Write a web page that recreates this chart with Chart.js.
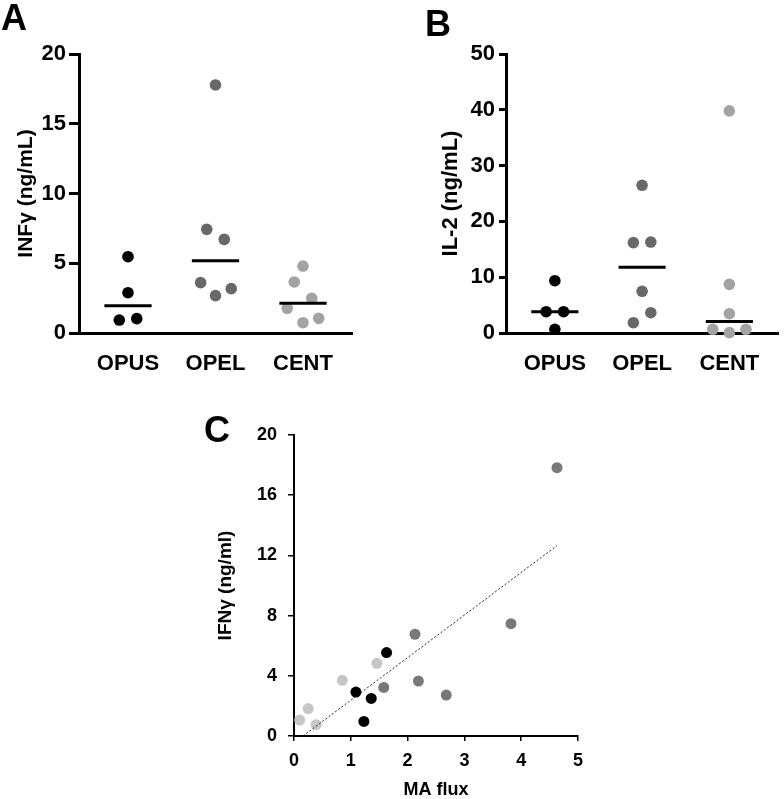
<!DOCTYPE html>
<html>
<head>
<meta charset="utf-8">
<script src="https://cdn.jsdelivr.net/npm/chart.js@4.4.1/dist/chart.umd.min.js"></script>
<style>
    body { margin: 0; background: #fff; }
    #page { position: relative; width: 784px; height: 799px; overflow: hidden; }
    canvas { position: absolute; }
    .tag { position: absolute; font: bold 36px "Liberation Sans", Arial, sans-serif; line-height: 1; color: #000; }
</style>
</head>
<body>
<div id="page">
    <canvas id="chartA" width="360" height="380" style="left:0;top:0"></canvas>
    <canvas id="chartB" width="384" height="380" style="left:400px;top:0"></canvas>
    <canvas id="chartC" width="420" height="399" style="left:190px;top:400px"></canvas>
    <div class="tag" style="left:1px;top:0px">A</div>
    <div class="tag" style="left:425px;top:6px">B</div>
    <div class="tag" style="left:204px;top:412px">C</div>
</div>
<script>
// groups
const groups = ['OPUS', 'OPEL', 'CENT'];

// A - INFγ per group (ng/mL), with sideways spread inside each column
const infOpus = [5.47, 2.89, 0.93, 1.03];
const infOpusSpread = [0, 0, -0.1, 0.1];
const infOpel = [17.78, 7.43, 6.71, 3.61, 3.18, 2.68];
const infOpelSpread = [0, -0.1, 0.1, -0.17, 0.18, 0];
const infCent = [4.80, 3.66, 2.48, 1.77, 1.05, 0.74];
const infCentSpread = [0, -0.1, 0.1, -0.18, 0.18, 0];
const infMedians = [1.96, 5.18, 2.13];
const infTicks = [0, 5, 10, 15, 20];

// B - IL-2 per group (ng/mL)
const il2Opus = [9.37, 3.82, 3.82, 0.66];
const il2OpusSpread = [0, -0.1, 0.1, 0];
const il2Opel = [26.47, 16.2, 16.3, 7.47, 3.64, 1.85];
const il2OpelSpread = [0, -0.1, 0.1, 0, 0.1, -0.1];
const il2Cent = [39.8, 8.72, 3.46, 0.66, 0.66, 0.06];
const il2CentSpread = [0, 0, 0, -0.19, 0.19, 0];
const il2Medians = [3.82, 11.8, 2.06];
const il2Ticks = [0, 10, 20, 30, 40, 50];

// C - IFNγ vs MA flux
const fluxOpus = [1.63, 1.09, 1.36, 1.23];
const ifnOpus = [5.54, 2.92, 2.50, 0.97];
const fluxOpel = [4.63, 3.82, 2.13, 2.19, 1.58, 2.68];
const ifnOpel = [17.83, 7.46, 6.76, 3.65, 3.23, 2.72];
const fluxCent = [1.46, 0.85, 0.25, 0.10, 0.39];
const ifnCent = [4.83, 3.70, 1.82, 1.06, 0.75];
const fitFlux = [0.16, 4.63];
const fitIfn = [0, 12.65];

const FONT = '"Liberation Sans", Arial, sans-serif';
const colorsAB = ['#000000', '#686868', '#a3a3a3'];
const colorsC = ['#000000', '#787878', '#c6c6c6'];

Chart.defaults.font.family = FONT;
Chart.defaults.color = '#000';

function column(values, spread, i) {
    return values.map((v, k) => ({ x: i + spread[k], y: v }));
}

function dots(data, color, r) {
    return {
        type: 'scatter',
        data: data,
        backgroundColor: color,
        borderWidth: 0,
        pointRadius: r,
        pointHoverRadius: r,
        clip: false
    };
}

function medianLines(medians) {
    return medians.map((m, i) => ({
        type: 'line',
        data: [{ x: i - 0.27, y: m }, { x: i + 0.27, y: m }],
        borderColor: '#000',
        borderWidth: 3,
        pointRadius: 0,
        clip: false
    }));
}

function groupChart(id, cols, medians, ticks, title, opts) {
    const datasets = medianLines(medians);
    cols.forEach((c, i) => datasets.push(dots(column(c[0], c[1], i), colorsAB[i], 5.8)));
    new Chart(document.getElementById(id), {
        type: 'scatter',
        data: { datasets: datasets },
        options: {
            responsive: false,
            animation: false,
            events: [],
            layout: { padding: { top: 54, right: opts.right, left: 0, bottom: 0 } },
            plugins: { legend: { display: false }, tooltip: { enabled: false } },
            scales: {
                x: {
                    type: 'linear',
                    min: -0.56,
                    max: 2.56,
                    afterBuildTicks: s => { s.ticks = groups.map((g, i) => ({ value: i })); },
                    afterFit: s => { s.height = opts.xHeight; },
                    grid: { display: false },
                    border: { display: true, width: 3, color: '#000' },
                    ticks: {
                        padding: 10,
                        maxRotation: 0,
                        autoSkip: false,
                        font: { size: 22, weight: 'bold' },
                        callback: v => groups[v]
                    }
                },
                y: {
                    min: 0,
                    max: ticks[ticks.length - 1],
                    afterBuildTicks: s => { s.ticks = ticks.map(v => ({ value: v })); },
                    afterFit: s => { s.width = opts.yWidth; },
                    grid: { drawOnChartArea: false, drawTicks: true, tickLength: opts.tickLen, lineWidth: 3, color: '#000' },
                    border: { display: true, width: 3, color: '#000' },
                    ticks: { padding: opts.tickPad, font: { size: 22, weight: 'bold' } },
                    title: {
                        display: true,
                        text: title,
                        font: { size: opts.titleSize, weight: 'bold' },
                        padding: { top: opts.titlePad, bottom: 0 }
                    }
                }
            }
        }
    });
}

groupChart('chartA',
    [[infOpus, infOpusSpread], [infOpel, infOpelSpread], [infCent, infCentSpread]],
    infMedians, infTicks, 'INFγ (ng/mL)',
    { right: 8, xHeight: 47, yWidth: 79, tickLen: 10, tickPad: 3, titleSize: 21, titlePad: 14 });

groupChart('chartB',
    [[il2Opus, il2OpusSpread], [il2Opel, il2OpelSpread], [il2Cent, il2CentSpread]],
    il2Medians, il2Ticks, 'IL-2 (ng/mL)',
    { right: 2, xHeight: 47, yWidth: 106, tickLen: 7, tickPad: 4, titleSize: 22, titlePad: 38 });

// C
const pairs = (xs, ys) => xs.map((x, i) => ({ x: x, y: ys[i] }));

new Chart(document.getElementById('chartC'), {
    type: 'scatter',
    data: {
        datasets: [
            {
                type: 'line',
                data: pairs(fitFlux, fitIfn),
                borderColor: '#222',
                borderWidth: 1,
                borderDash: [2, 2],
                pointRadius: 0,
                clip: false
            },
            dots(pairs(fluxOpus, ifnOpus), colorsC[0], 5.5),
            dots(pairs(fluxOpel, ifnOpel), colorsC[1], 5.5),
            dots(pairs(fluxCent, ifnCent), colorsC[2], 5.5)
        ]
    },
    options: {
        responsive: false,
        animation: false,
        events: [],
        layout: { padding: { top: 35, right: 32, left: 0, bottom: 0 } },
        plugins: { legend: { display: false }, tooltip: { enabled: false } },
        scales: {
            x: {
                type: 'linear',
                min: 0,
                max: 5,
                ticks: { stepSize: 1, padding: 9, font: { size: 18, weight: 'bold' } },
                afterFit: s => { s.height = 63; },
                grid: { drawOnChartArea: false, drawTicks: true, tickLength: 5, lineWidth: 1.5, color: '#000' },
                border: { display: true, width: 2, color: '#000' },
                title: {
                    display: true,
                    text: 'MA flux',
                    font: { size: 18, weight: 'bold', lineHeight: 1 },
                    padding: { top: 0, bottom: 0 }
                }
            },
            y: {
                min: 0,
                max: 20,
                ticks: { stepSize: 4, padding: 11, font: { size: 18, weight: 'bold' } },
                afterFit: s => { s.width = 104; },
                grid: { drawOnChartArea: false, drawTicks: true, tickLength: 6, lineWidth: 1.5, color: '#000' },
                border: { display: true, width: 2, color: '#000' },
                title: {
                    display: true,
                    text: 'IFNγ (ng/ml)',
                    font: { size: 19, weight: 'bold' },
                    padding: { top: 24, bottom: 0 }
                }
            }
        }
    }
});
</script>
</body>
</html>
